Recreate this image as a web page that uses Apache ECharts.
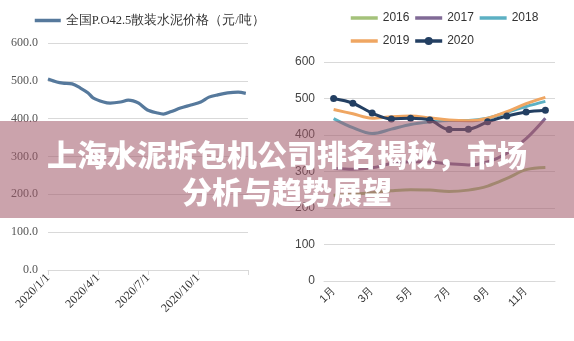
<!DOCTYPE html>
<html><head><meta charset="utf-8">
<script src="https://cdn.jsdelivr.net/npm/echarts@6/dist/echarts.min.js"></script>
<style>html,body{margin:0;padding:0;background:#fff}#c{width:574px;height:341px}</style>
</head><body><div id="c"></div>
<script>
// Left chart: national P.O42.5 bulk cement price 2020
const leftSeriesName = '全国P.O42.5散装水泥价格（元/吨）';
const leftDates = ['2020/1/1','2020/1/17','2020/1/28','2020/2/14','2020/2/29','2020/3/14','2020/3/23','2020/4/11','2020/4/23','2020/5/12','2020/5/26','2020/6/4','2020/6/14','2020/6/30','2020/7/18','2020/7/29','2020/8/11','2020/8/29','2020/9/17','2020/10/5','2020/10/20','2020/11/5','2020/11/23','2020/12/12','2020/12/26'];
const leftPrices = [505,497,494,492,481,468,455,444,441,444,449,447,441,423,415,412,418,428,436,444,457,463,468,470,467];
const leftTickLabels = ['2020/1/1','2020/4/1','2020/7/1','2020/10/1',''];
const leftYTicks = [0,100,200,300,400,500,600];

// Right chart: monthly prices by year
const months = ['1月','2月','3月','4月','5月','6月','7月','8月','9月','10月','11月','12月'];
const years = ['2016','2017','2018','2019','2020'];
const y2016 = [235,238,242,247,250,249,245,249,260,281,305,311];
const y2017 = [308,306,310,322,327,326,321,318,326,350,390,446];
const y2018 = [445,420,404,416,429,436,440,440,446,462,478,492];
const y2019 = [470,458,446,450,452,447,441,439,446,464,486,503];
const y2020 = [500,487,460,444,446,441,415,416,436,452,463,468];
const rightYTicks = [0,100,200,300,400,500,600];

const titleLines = ['上海水泥拆包机公司排名揭秘，市场','分析与趋势展望'];

const base = Date.UTC(2020,0,1);
function dayOf(s){const p=s.split('/').map(Number);return (Date.UTC(p[0],p[1]-1,p[2])-base)/86400000;}
const leftData = leftDates.map((d,i)=>[dayOf(d), leftPrices[i]]);

const colors = {'2016':'#a4c27a','2017':'#806a96','2018':'#5cb0c3','2019':'#efa662','2020':'#233f62'};
const yearData = [y2016,y2017,y2018,y2019,y2020];

const chart = echarts.init(document.getElementById('c'));
const serif = '"Liberation Serif", "Times New Roman", serif';
const sans = '"Liberation Sans", Arial, sans-serif';

const rightSeries = years.map((y,i)=>({
  name:y, type:'line', xAxisIndex:1, yAxisIndex:1, data:yearData[i],
  smooth:0.35, symbol: y==='2020' ? 'circle' : 'none', symbolSize:7,
  lineStyle:{width:3,color:colors[y]}, itemStyle:{color:colors[y]}, z:2+i
}));
function legItem(name){
  return name==='2020' ? {name} : {name, itemStyle:{opacity:0, borderWidth:0}};
}

chart.setOption({
  animation:false,
  legend:[
    {data:[legItem(leftSeriesName)], left:28, top:9, itemWidth:26, itemHeight:10, lineStyle:{width:3.5},
     textStyle:{fontFamily:serif, fontSize:12.5, color:'#333'}},
    {data:['2016','2017','2018'].map(legItem), left:344, top:7, itemWidth:27, itemHeight:10, itemGap:4, lineStyle:{width:3.5},
     textStyle:{fontFamily:sans, fontSize:12, color:'#333'}},
    {data:['2019','2020'].map(legItem), left:344, top:30, itemWidth:27, itemHeight:10, itemGap:4, lineStyle:{width:3.5},
     textStyle:{fontFamily:sans, fontSize:12, color:'#333'}}
  ],
  grid:[
    {left:48, right:326, top:43, bottom:71},
    {left:324, right:19, top:62, bottom:60}
  ],
  xAxis:[
    {type:'value', gridIndex:0, min:0, max:364, interval:91,
     axisLine:{show:true, lineStyle:{color:'#d9d9d9'}},
     axisTick:{show:true, length:5, lineStyle:{color:'#d9d9d9'}},
     splitLine:{show:false},
     axisLabel:{rotate:45, fontFamily:serif, fontSize:12, color:'#333', margin:6,
       formatter:v=>leftTickLabels[Math.round(v/91)]||''}},
    {type:'category', gridIndex:1, data:months, boundaryGap:true,
     axisLine:{show:true, lineStyle:{color:'#d9d9d9'}},
     axisTick:{show:false},
     axisLabel:{rotate:45, interval:1, fontFamily:sans, fontSize:11, color:'#333', margin:8}}
  ],
  yAxis:[
    {type:'value', gridIndex:0, min:leftYTicks[0], max:leftYTicks[leftYTicks.length-1], interval:100,
     axisLine:{show:false}, axisTick:{show:false},
     splitLine:{lineStyle:{color:'#d9d9d9'}},
     axisLabel:{fontFamily:serif, fontSize:12, color:'#555', margin:10, formatter:v=>v.toFixed(1)}},
    {type:'value', gridIndex:1, min:rightYTicks[0], max:rightYTicks[rightYTicks.length-1], interval:100,
     axisLine:{show:false}, axisTick:{show:false},
     splitLine:{lineStyle:{color:'#d9d9d9'}},
     axisLabel:{fontFamily:sans, fontSize:12, color:'#444', margin:9}}
  ],
  series:[
    {name:leftSeriesName, type:'line', xAxisIndex:0, yAxisIndex:0, data:leftData,
     smooth:0.3, symbol:'none', lineStyle:{width:3.2,color:'#56799c'}, itemStyle:{color:'#56799c'}}
  ].concat(rightSeries),
  graphic:[
    {type:'rect', left:0, top:121, z:100, shape:{width:574, height:97},
     style:{fill:'rgba(160,88,104,0.55)'}},
    {type:'text', x:287, y:155, z:101,
     style:{text:titleLines[0], fill:'#fff', fontSize:30, fontWeight:900,
       fontFamily:'"Noto Sans CJK SC", sans-serif', textAlign:'center', textVerticalAlign:'middle'}},
    {type:'text', x:287, y:192, z:101,
     style:{text:titleLines[1], fill:'#fff', fontSize:30, fontWeight:900,
       fontFamily:'"Noto Sans CJK SC", sans-serif', textAlign:'center', textVerticalAlign:'middle'}}
  ]
});
</script></body></html>
